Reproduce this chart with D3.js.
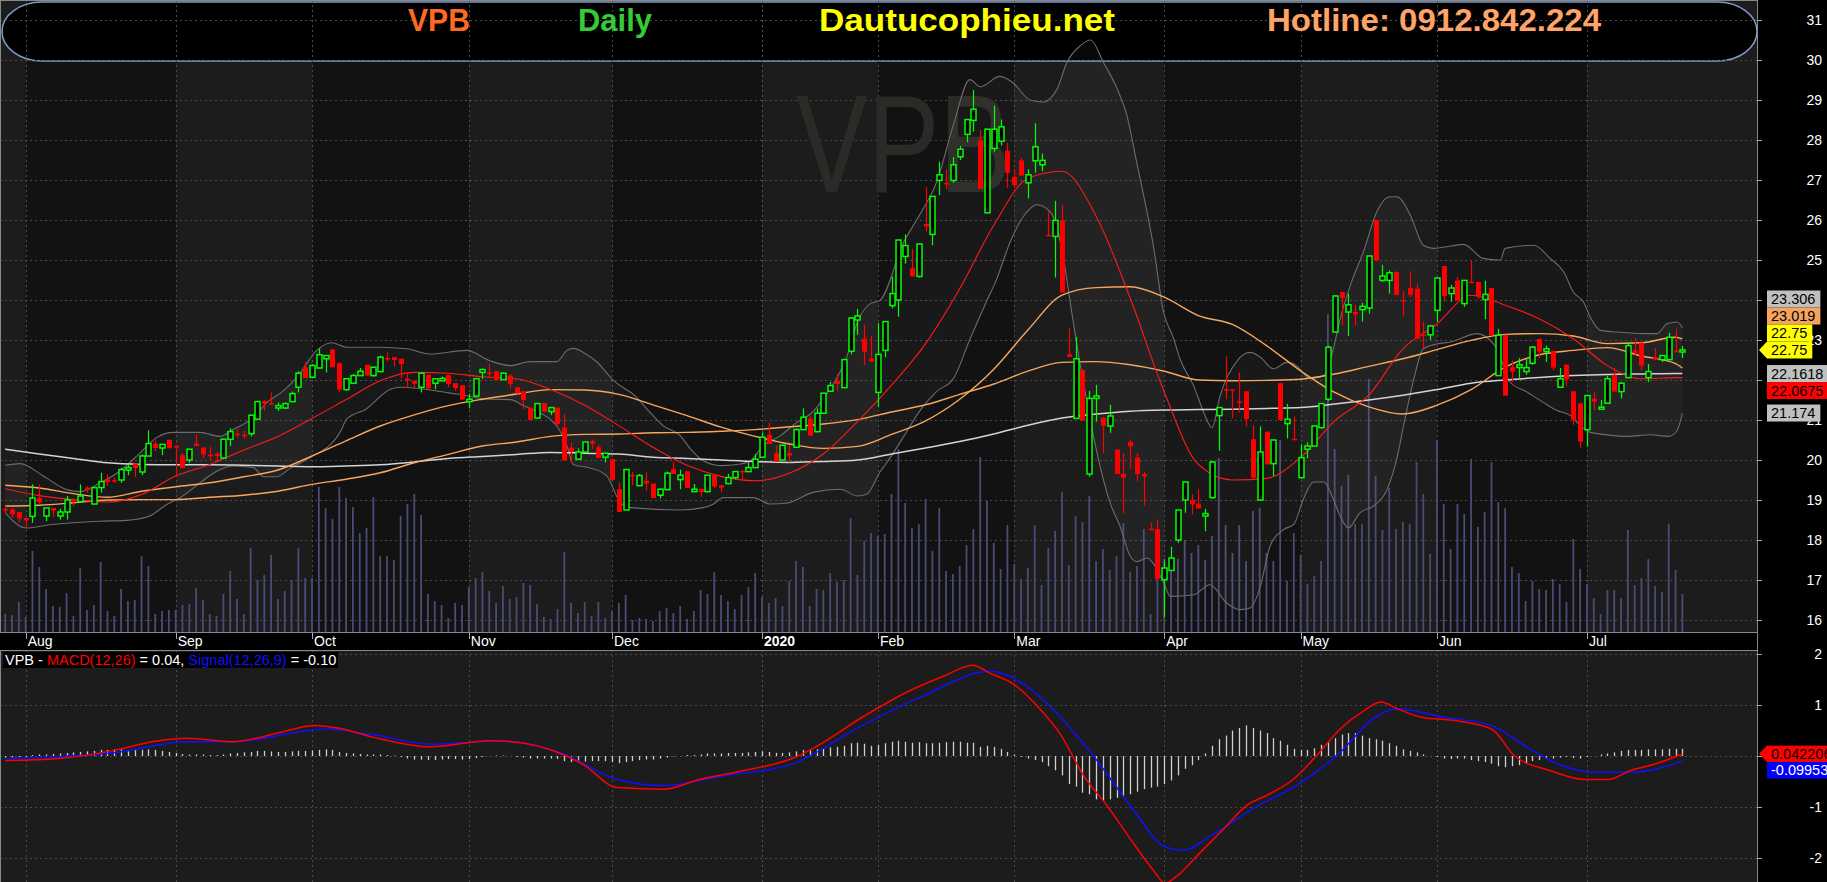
<!DOCTYPE html>
<html><head><meta charset="utf-8">
<script src="https://cdn.jsdelivr.net/npm/d3@7"></script>
<style>html,body{margin:0;padding:0;background:#000;overflow:hidden}svg{display:block}</style>
</head><body>
<svg id="c" width="1827" height="882"></svg>
<script>
// ---------------- DATA ----------------
const monthLabels = ["Aug","Sep","Oct","Nov","Dec","2020","Feb","Mar","Apr","May","Jun","Jul"];
const monthStart  = [3,25,45,68,89,111,128,148,170,190,210,232];

const open = [18.78,18.76,18.70,18.55,18.59,19.05,18.60,18.80,18.60,18.70,
19.00,18.96,19.31,18.90,19.31,19.52,19.50,19.50,19.75,19.91,
19.70,20.10,20.41,20.30,20.50,20.35,20.12,20.00,20.41,20.31,
20.13,20.16,20.05,20.52,20.66,20.63,20.66,21.02,21.47,21.42,
21.30,21.30,21.46,21.82,22.32,22.07,22.30,22.53,22.76,22.42,
21.76,21.92,22.11,22.38,22.11,22.21,22.55,22.57,22.53,22.03,
21.98,21.82,22.13,21.92,21.98,22.13,21.92,21.87,21.46,21.60,
22.19,22.19,22.22,22.01,22.11,21.82,21.72,21.31,21.05,21.42,
21.21,21.31,20.81,20.31,20.02,20.20,20.47,20.32,20.07,20.02,
19.27,18.75,19.63,19.36,19.48,19.41,19.12,19.26,19.77,19.51,
19.72,19.21,19.27,19.21,19.62,19.37,19.41,19.56,19.73,19.71,
19.81,20.07,20.63,20.17,20.00,20.17,20.32,20.76,21.03,20.71,
21.17,21.72,21.98,21.81,22.72,23.50,23.03,22.53,21.69,22.74,
23.86,24.00,25.09,24.79,24.59,25.90,25.64,26.99,26.93,26.99,
27.58,28.14,28.49,27.99,26.18,27.79,27.97,27.73,27.08,27.49,
26.93,27.48,27.38,25.63,25.59,25.99,22.64,21.04,22.25,19.65,
21.54,21.06,20.85,20.26,19.65,20.45,20.06,19.65,18.28,18.27,
17.01,17.24,18.00,19.00,19.00,18.91,18.60,19.06,21.11,21.77,
21.77,21.47,21.72,20.52,19.00,20.71,19.91,21.92,20.91,20.53,
19.56,20.27,20.35,20.81,21.52,23.20,24.20,23.70,23.70,23.76,
23.80,26.00,24.49,24.49,24.70,24.00,24.30,24.28,23.14,23.13,
23.74,24.85,24.16,24.49,23.91,24.46,24.45,24.01,24.30,22.11,
23.13,22.32,22.31,22.21,22.42,23.03,22.71,22.73,21.82,22.38,
21.72,21.42,20.76,21.53,21.27,21.42,22.13,21.71,22.06,22.74,
22.93,22.06,22.57,22.51,22.51,22.73,22.70];
const high = [18.85,18.80,18.70,18.56,19.39,19.39,18.80,18.80,18.78,19.10,
19.05,19.39,19.35,19.31,19.68,19.64,19.56,19.81,19.89,19.91,
20.14,20.74,20.48,20.39,20.52,20.37,20.18,20.27,20.64,20.33,
20.33,20.20,20.52,20.79,20.77,20.73,21.12,21.48,21.50,21.69,
21.44,21.44,21.71,22.22,22.44,22.40,22.79,22.61,22.78,22.44,
22.03,22.15,22.30,22.38,22.32,22.61,22.69,22.57,22.53,22.19,
21.98,22.17,22.13,22.03,22.09,22.13,21.92,21.87,21.65,22.03,
22.29,22.40,22.22,22.19,22.15,21.82,21.72,21.31,21.41,21.42,
21.31,21.31,21.15,20.44,20.29,20.45,20.51,20.38,20.17,20.02,
19.44,19.76,19.71,19.65,19.69,19.41,19.29,19.71,19.96,19.76,
19.72,19.40,19.27,19.62,19.62,19.37,19.65,19.71,19.73,19.94,
20.15,20.69,20.94,20.36,20.37,20.37,20.79,21.29,21.11,21.29,
21.67,21.95,22.15,22.53,23.57,23.78,23.38,23.10,23.42,23.46,
24.58,25.50,25.64,25.28,25.40,26.82,26.59,27.46,27.27,27.57,
27.85,28.51,29.25,28.25,28.27,28.86,28.51,27.93,27.27,27.55,
27.27,28.42,27.66,26.21,26.48,26.38,23.30,23.07,22.27,21.73,
21.88,21.06,21.38,20.26,20.17,20.51,20.17,19.70,18.44,18.51,
17.52,17.83,18.75,19.45,19.14,19.27,18.78,19.98,21.31,22.59,
21.77,22.19,21.72,20.87,20.84,20.71,20.50,21.92,21.40,21.09,
20.39,20.44,20.85,21.41,22.86,24.12,24.20,24.16,23.88,23.93,
25.10,26.00,24.88,24.74,24.72,24.22,24.72,24.41,23.46,23.38,
24.55,24.85,24.38,24.57,24.49,24.99,24.45,24.48,24.30,23.28,
23.13,22.49,22.55,22.53,22.85,23.03,22.86,22.73,22.30,22.40,
21.72,21.42,21.61,21.70,21.50,22.11,22.30,21.94,22.95,23.05,
22.96,22.40,22.80,22.61,23.18,23.28,22.85];
const low = [18.65,18.55,18.44,18.30,18.43,18.89,18.47,18.58,18.51,18.51,
18.85,18.93,19.18,18.90,19.18,19.36,19.43,19.43,19.62,19.57,
19.62,20.10,20.22,20.12,20.28,19.58,19.80,19.93,20.35,20.03,
19.97,19.97,20.03,20.35,20.56,20.54,20.59,21.02,21.23,21.40,
21.23,21.27,21.46,21.69,22.05,22.04,22.29,22.19,22.32,21.69,
21.73,21.92,22.11,22.11,22.09,22.21,22.46,22.34,22.04,21.79,
21.79,21.69,21.79,21.77,21.98,21.82,21.73,21.51,21.29,21.59,
22.03,22.07,21.98,22.01,21.79,21.65,21.27,21.00,21.04,21.19,
21.12,20.81,19.99,19.93,20.00,20.20,20.27,20.05,19.94,19.50,
18.70,18.75,19.37,19.34,19.23,19.05,19.04,19.26,19.65,19.27,
19.30,19.21,19.08,19.19,19.29,19.19,19.40,19.52,19.52,19.71,
19.80,20.07,20.40,19.96,19.98,19.94,20.30,20.76,20.61,20.69,
21.15,21.70,21.73,21.80,22.64,23.13,22.38,22.46,21.32,22.57,
23.79,23.58,24.91,24.59,24.56,25.71,25.37,26.62,26.76,26.93,
27.50,27.95,28.21,26.78,26.18,27.71,27.86,26.80,26.80,27.11,
26.54,27.18,27.22,25.60,24.56,24.19,22.58,21.04,20.99,19.58,
20.96,20.17,20.68,19.65,18.67,19.77,19.47,18.86,18.26,17.02,
16.07,17.24,17.93,18.68,18.64,18.79,18.22,19.03,20.23,21.52,
21.04,21.19,20.84,19.56,19.00,19.89,19.60,21.00,20.54,20.52,
19.53,20.04,20.35,20.79,21.48,23.20,23.36,23.10,23.36,23.46,
23.66,24.97,24.45,24.16,24.12,23.61,24.07,23.03,22.79,23.00,
23.45,23.96,23.96,23.99,23.83,24.43,24.02,23.52,23.12,22.11,
21.61,21.95,22.03,22.13,22.38,22.55,22.45,22.24,21.82,21.85,
20.88,20.29,20.34,21.24,21.27,21.42,21.71,21.54,22.04,22.61,
22.24,21.95,22.49,22.45,22.49,22.72,22.55];
const close = [18.75,18.64,18.54,18.49,19.05,18.94,18.80,18.74,18.70,19.00,
18.98,19.10,19.25,19.31,19.46,19.45,19.48,19.76,19.81,19.80,
20.10,20.41,20.30,20.39,20.30,20.33,19.80,20.27,20.35,20.14,
20.12,20.10,20.52,20.71,20.64,20.62,21.12,21.46,21.41,21.41,
21.36,21.41,21.66,22.17,22.05,22.36,22.63,22.61,22.32,21.76,
22.03,22.11,22.22,22.11,22.32,22.57,22.54,22.50,22.40,22.02,
21.90,22.17,21.79,22.03,22.04,21.90,21.80,21.51,21.52,22.03,
22.26,22.18,22.00,22.17,21.90,21.67,21.50,21.00,21.41,21.21,
21.31,20.90,19.99,20.20,20.20,20.45,20.41,20.05,20.17,19.50,
18.70,19.76,19.62,19.61,19.41,19.05,19.27,19.67,19.65,19.62,
19.30,19.27,19.20,19.62,19.34,19.31,19.56,19.71,19.72,19.81,
20.02,20.57,20.40,19.96,20.37,20.11,20.76,21.07,20.61,21.17,
21.67,21.86,21.90,22.51,23.55,23.60,22.71,22.46,22.64,23.46,
24.16,25.50,25.36,24.59,25.40,25.84,26.59,27.13,26.92,27.38,
27.77,28.51,28.77,26.78,28.27,28.27,28.33,27.18,26.87,27.11,
27.13,27.83,27.49,25.61,25.99,24.19,22.58,22.53,20.99,21.54,
21.60,20.85,21.10,19.65,19.56,20.34,19.65,19.59,18.27,17.02,
17.30,17.55,18.75,19.45,18.89,18.79,18.66,19.95,21.31,21.76,
21.76,21.46,21.02,19.56,20.20,19.89,20.50,21.00,21.02,20.52,
20.06,20.35,20.85,21.41,22.82,24.10,24.05,23.88,23.64,23.84,
25.10,24.99,24.60,24.68,24.13,23.99,24.13,23.03,23.13,23.35,
24.55,24.10,24.30,23.99,24.49,24.44,24.09,24.14,23.12,23.12,
21.61,22.21,22.38,22.31,22.82,22.71,22.78,22.31,22.03,22.01,
21.01,20.46,21.61,21.46,21.32,22.03,21.71,21.92,22.86,22.67,
22.36,22.21,22.51,22.61,23.07,22.72,22.75];
const volume = [1.8,1.7,3.0,1.5,8.1,6.5,4.3,2.6,2.5,3.9,
1.6,6.4,2.2,2.7,7.0,2.1,1.6,4.3,3.1,3.2,
7.6,6.6,1.8,2.1,2.2,2.2,2.7,2.8,4.4,3.2,
1.8,1.6,3.8,6.1,3.3,1.8,8.4,5.2,5.7,7.7,
3.3,4.1,5.2,8.4,5.4,5.4,14.5,12.4,11.3,14.5,
13.4,12.5,9.9,10.4,13.5,7.6,7.6,7.2,11.6,12.8,
13.8,11.7,3.8,3.1,2.7,1.4,2.9,2.7,4.5,5.4,
6.0,4.1,2.9,4.6,3.3,3.5,4.9,4.7,2.8,1.5,
1.3,2.3,8.0,2.9,1.9,3.0,1.6,3.0,1.4,2.1,
2.9,3.7,1.2,1.4,1.3,1.1,2.1,2.4,1.9,2.6,
1.3,2.1,4.2,3.8,6.0,3.7,3.1,2.3,3.7,4.5,
5.9,3.5,2.9,3.4,2.6,5.1,7.1,6.5,2.6,4.3,
4.2,5.9,5.0,5.2,11.4,5.7,9.1,9.9,9.6,9.8,
13.8,18.3,12.9,10.4,10.8,13.3,8.1,12.4,6.1,5.8,
6.6,8.7,10.3,17.5,13.1,8.9,6.3,10.7,6.8,5.3,
6.4,10.7,4.7,8.4,10.1,14.0,6.7,11.6,11.0,13.6,
7.1,8.3,6.2,7.6,10.9,6.0,6.6,10.3,1.8,8.0,
7.0,7.3,7.3,9.2,7.9,8.7,7.2,9.6,17.4,10.7,
7.9,10.7,7.1,12.1,12.4,7.9,7.1,19.2,5.1,9.9,
7.7,4.8,5.6,7.1,31.8,18.3,14.6,15.7,10.8,10.8,
25.3,15.6,10.2,14.4,10.3,11.0,10.8,17.0,13.8,7.8,
19.2,12.8,8.3,12.8,11.8,17.3,10.5,12.0,17.0,13.0,
12.4,6.5,5.9,3.1,5.1,4.3,4.2,5.3,4.8,3.0,
9.3,6.3,4.8,3.4,1.8,4.2,4.2,3.4,10.2,4.7,
5.4,7.3,4.6,4.0,10.8,6.2,3.8];

// moving averages sampled every 5 sessions
const maIdx = [0,5,10,15,20,25,30,35,40,45,50,55,60,65,70,75,80,85,90,95,100,105,110,115,120,125,130,135,140,145,150,155,160,165,170,175,180,185,190,195,200,205,210,215,220,225,230,235,240,245,246];
const maWhite = [20.27,20.15,20.04,19.93,19.89,19.88,19.88,19.87,19.85,19.83,19.85,19.88,19.95,20.04,20.09,20.14,20.19,20.17,20.15,20.07,20.04,20.00,19.96,19.94,19.96,20.00,20.15,20.30,20.46,20.65,20.87,21.05,21.15,21.22,21.25,21.26,21.27,21.29,21.31,21.40,21.50,21.62,21.76,21.92,22.00,22.06,22.11,22.14,22.15,22.16,22.16];
const maOrangeA = [19.37,19.30,19.16,19.07,19.22,19.33,19.43,19.58,19.75,20.10,20.48,20.85,21.13,21.36,21.52,21.65,21.76,21.75,21.64,21.38,21.11,20.82,20.59,20.40,20.29,20.34,20.64,20.98,21.52,22.27,23.25,24.12,24.31,24.33,24.07,23.61,23.39,22.86,22.23,21.69,21.33,21.15,21.37,21.76,22.32,22.63,22.74,22.81,22.60,22.41,22.30];
const maOrangeB = [18.85,18.87,18.93,19.00,19.01,19.01,19.07,19.12,19.22,19.39,19.52,19.68,19.93,20.14,20.35,20.45,20.59,20.64,20.65,20.68,20.69,20.72,20.76,20.83,20.90,21.01,21.20,21.38,21.64,21.90,22.22,22.44,22.46,22.38,22.22,22.00,21.98,21.99,22.02,22.15,22.34,22.53,22.76,22.99,23.14,23.16,23.10,22.91,22.93,23.07,23.03];
const maRed = [19.28,19.11,19.01,18.95,19.14,19.60,19.89,20.25,20.59,21.04,21.51,21.98,22.19,22.17,22.08,22.03,21.76,21.37,20.86,20.32,19.87,19.59,19.48,19.67,20.15,20.96,21.87,22.91,24.28,25.87,27.04,27.22,26.10,24.05,21.70,19.89,19.50,19.54,20.06,20.98,21.62,22.78,23.40,24.12,23.87,23.53,23.03,22.36,22.03,22.06,22.06];

// Bollinger bands
const bbUpIdx = [0,2.2,5.6,9,11,13.9,16.8,19.8,22.2,24.7,28.6,31.5,33.5,36.4,38.4,40.8,42.8,45.7,47.9,50.1,55,58.9,62.3,67.7,71.1,74.1,77,80.9,82.4,83.3,84.8,86.8,89.2,92.6,94.1,96.5,99,100.5,102.4,104.9,107.8,109.3,111.2,113.7,116.1,118.1,120.5,123.5,125,126.9,128.3,131.8,134.2,136.6,139.1,141.5,143,145.9,147.9,150.3,152.3,154.3,155.7,157.7,159.2,161.1,163.1,164.5,166,168.4,169.9,171.4,172.3,174.3,175.8,177,178.2,180.7,182.6,184.1,186,188,189.4,191.4,193.4,194.8,195.8,197.3,199.2,201.2,203.1,204.1,206.1,208,209.5,212,213.9,216.8,219.3,220,224.2,226.6,228.6,230,231.5,232.5,234,236.4,240.3,242.3,243.8,245.2,246];
const bbUpper = [19.87,19.91,19.60,19.26,19.21,19.43,19.72,20.18,20.56,20.69,20.69,20.59,20.77,21.06,21.44,21.73,22.07,22.74,22.93,22.82,22.82,22.78,22.65,22.74,22.48,22.36,22.46,22.46,22.74,22.79,22.69,22.45,21.99,21.57,21.28,20.86,20.61,20.28,19.98,19.86,19.90,19.98,20.36,20.61,20.94,21.15,21.65,22.61,23.45,23.91,23.99,25.45,26.15,26.94,28.39,29.51,29.33,29.59,29.42,29.00,28.95,29.28,29.93,30.36,30.50,29.93,29.28,28.63,27.41,25.36,23.70,23.03,22.53,21.86,21.19,20.81,21.61,22.48,22.69,22.57,22.28,22.44,22.36,22.03,22.11,22.78,23.53,24.37,25.20,26.21,26.58,26.58,26.12,25.37,25.29,25.35,25.39,25.04,25.00,25.29,25.37,25.04,24.70,24.20,23.95,23.57,23.24,23.20,23.16,23.16,23.41,23.45,23.31];
const bbLowIdx = [0,3.1,6.6,13.9,17.8,21.2,23.7,25.6,28.6,31,33.5,36.4,37.9,39.8,41.8,44.7,49.1,50.1,52.9,56.5,58,66.2,71.1,74.1,76,79.9,80.9,82.4,83.3,85.8,88.2,90.2,91.7,99,102.4,103.9,105.3,109.7,112.2,114.6,118.5,122.5,125,126.4,128.3,129.3,131.8,134.2,136.6,139.1,141.5,143.9,145.4,147.4,149.4,151.3,153.3,155.2,156.2,157.7,158.6,160.1,162.1,163.5,165,166,167.5,168.4,169.9,170.9,174.3,176.7,179.2,181.1,182.6,184.1,185.5,187.5,189,190.4,191.9,193.4,194.8,195.8,197,198.7,200.7,202.7,204.1,205.1,206.6,208,210,212,215.9,217.8,218.8,220.7,223.2,225.6,227.6,229.6,231,232.5,234.9,237.9,241.3,244,245.2,246];
const bbLower = [18.68,18.30,18.38,18.47,18.49,18.60,18.89,19.05,19.43,19.72,19.85,19.81,19.58,19.58,19.79,20.06,20.69,21.02,21.27,21.77,21.82,21.65,21.52,21.51,21.36,21.02,20.85,20.35,19.89,19.80,19.61,18.94,18.81,18.75,18.81,18.90,19.06,19.06,18.90,18.92,19.19,19.27,19.10,19.15,19.70,19.93,20.59,21.24,21.71,22.04,23.02,23.95,24.51,25.45,26.10,26.38,26.20,25.07,23.95,22.36,21.52,20.21,18.91,18.35,17.60,17.46,17.55,17.41,16.94,16.59,16.63,16.88,16.42,16.26,16.30,16.84,17.84,18.26,18.39,19.02,19.45,19.45,19.02,18.60,18.30,18.68,18.85,19.27,20.02,20.85,22.02,22.78,22.90,22.95,23.16,22.99,22.78,21.95,21.70,21.44,21.24,21.11,20.86,20.69,20.63,20.59,20.63,20.59,20.73,21.17];

// MACD(12,26) and Signal(12,26,9)
const macdIdx = [0,7.8,16.3,21.5,26.6,33.4,40.3,45.4,48.8,53.9,62.5,71,76.1,84.7,89.8,96.6,101.8,108.6,115.4,118.9,125.7,132.5,137.7,141.9,144.5,147.9,151.3,154.8,158.2,161.6,165,168.4,170.1,171.8,175.3,178.7,182.1,185.5,188.9,192.3,195.8,199.2,201.8,204.3,207.7,212.9,218,221.4,226.5,231.7,235.1,238.5,241.9,246];
const macdVal = [-0.09,-0.05,0.12,0.28,0.35,0.28,0.46,0.60,0.55,0.37,0.18,0.30,0.25,-0.16,-0.62,-0.65,-0.46,-0.28,-0.05,0.18,0.76,1.27,1.57,1.78,1.62,1.41,0.99,0.42,-0.39,-0.97,-1.62,-2.24,-2.49,-2.36,-1.89,-1.43,-0.97,-0.74,-0.46,0.00,0.53,0.88,1.06,0.92,0.76,0.69,0.53,0.00,-0.28,-0.46,-0.46,-0.28,-0.16,0.04];
const sigIdx = [0,16.3,26.6,33.4,47.1,53.9,62.5,72.7,81.3,89.8,96.6,105.2,115.4,125.7,134.2,144.5,149.6,154.8,159.9,165,170.1,172.7,177,183.8,188.9,195.8,200.9,204.3,211.1,218,223.1,228.2,233.4,238.5,246];
const sigVal = [-0.05,0.07,0.28,0.28,0.53,0.42,0.23,0.30,0.07,-0.46,-0.58,-0.39,-0.16,0.60,1.15,1.66,1.39,0.76,-0.05,-0.97,-1.78,-1.85,-1.55,-0.97,-0.62,0.07,0.76,0.92,0.76,0.60,0.18,-0.18,-0.32,-0.32,-0.10];
const macdHist = [-0.03,-0.03,-0.02,-0.02,0.02,0.03,0.03,0.04,0.05,0.06,
0.07,0.08,0.09,0.10,0.12,0.12,0.13,0.13,0.12,0.12,
0.12,0.13,0.12,0.10,0.08,0.06,0.04,0.03,0.03,0.03,
0.02,0.02,0.03,0.05,0.06,0.07,0.08,0.10,0.10,0.09,
0.08,0.08,0.09,0.10,0.10,0.11,0.12,0.13,0.12,0.08,
0.06,0.05,0.04,0.03,0.03,0.03,0.02,0.01,-0.02,-0.05,
-0.07,-0.07,-0.08,-0.08,-0.07,-0.06,-0.06,-0.07,-0.06,-0.04,
-0.02,0.00,0.01,0.01,0.00,-0.02,-0.03,-0.05,-0.05,-0.05,
-0.05,-0.06,-0.10,-0.12,-0.12,-0.11,-0.10,-0.10,-0.10,-0.12,
-0.14,-0.12,-0.10,-0.08,-0.07,-0.07,-0.05,-0.03,-0.01,0.00,
0.02,0.02,0.03,0.05,0.05,0.05,0.06,0.06,0.06,0.07,
0.08,0.09,0.08,0.06,0.06,0.07,0.09,0.12,0.12,0.13,
0.15,0.17,0.18,0.20,0.25,0.26,0.24,0.20,0.22,0.25,
0.28,0.30,0.28,0.26,0.27,0.25,0.25,0.26,0.27,0.28,
0.28,0.26,0.26,0.18,0.20,0.18,0.14,0.08,0.03,-0.02,
-0.05,-0.08,-0.12,-0.20,-0.28,-0.38,-0.55,-0.60,-0.72,-0.75,
-0.85,-0.88,-0.85,-0.82,-0.80,-0.75,-0.70,-0.65,-0.62,-0.60,
-0.55,-0.48,-0.38,-0.25,-0.18,-0.08,0.05,0.20,0.33,0.40,
0.50,0.55,0.60,0.55,0.50,0.45,0.35,0.30,0.22,0.14,
0.12,0.12,0.15,0.22,0.28,0.35,0.42,0.45,0.45,0.40,
0.35,0.33,0.30,0.25,0.20,0.13,0.10,0.07,0.03,0.00,
-0.02,-0.05,-0.06,-0.05,-0.05,-0.08,-0.10,-0.12,-0.15,-0.20,
-0.22,-0.20,-0.18,-0.15,-0.10,-0.08,-0.06,-0.05,-0.03,-0.02,
-0.04,-0.05,-0.02,0.00,0.03,0.05,0.07,0.10,0.12,0.12,
0.12,0.13,0.13,0.13,0.14,0.14,0.14];

// axis tick labels (ticks at 22, 24 and 0 are hidden under the value tags in the original)
const priceTicks = [16,17,18,19,20,21,22,23,24,25,26,27,28,29,30,31];
const priceTickLabels = [16,17,18,19,20,21,23,25,26,27,28,29,30,31];
const macdTicks = [-2,-1,0,1,2];
const macdTickLabels = [-2,-1,1,2];
const priceTags = [
  {text:"23.306", v:23.306, bg:"#c0c0c0", fg:"#000"},
  {text:"23.019", v:23.019, bg:"#f4a460", fg:"#000"},
  {text:"22.75",  v:22.75,  bg:"#ffff00", fg:"#000"},
  {text:"22.75",  v:22.75,  bg:"#ffff00", fg:"#000", anchor:true},
  {text:"22.1618",v:22.1618,bg:"#c0c0c0", fg:"#000"},
  {text:"22.0675",v:22.0675,bg:"#ff0000", fg:"#000"},
  {text:"21.174", v:21.174, bg:"#c0c0c0", fg:"#000"}
];
const macdTags = [
  {text:"0.042206", v:0.042206, bg:"#ff0000", fg:"#000", anchor:true},
  {text:"-0.099535", v:-0.099535, bg:"#0000ff", fg:"#fff"}
];
const headerTexts = [
  {text:"VPB", color:"#ff6a22", x:408, w:62},
  {text:"Daily", color:"#33cc33", x:578, w:74},
  {text:"Dautucophieu.net", color:"#ffff00", x:819, w:296},
  {text:"Hotline: 0912.842.224", color:"#ffa466", x:1267, w:334}
];

// ---------------- DRAW ----------------
const svg = d3.select("#c");
const PR = 1757;              // plot right edge
const FONT = "'Liberation Sans', Arial, sans-serif";
const n = close.length;
const x = d3.scaleLinear().domain([0, 246]).range([5.2, 1682.4]);
const y = d3.scaleLinear().domain([16, 31]).range([620, 20]);
const yv = d3.scaleLinear().domain([0, 40]).range([632, 232]);
const ym = d3.scaleLinear().domain([-2, 2]).range([858, 654]);

svg.append("rect").attr("width",1827).attr("height",882).attr("fill","#000");
svg.append("rect").attr("x",0).attr("y",0).attr("width",PR).attr("height",632).attr("fill","#1c1c1c");
svg.append("rect").attr("x",0).attr("y",651).attr("width",PR).attr("height",231).attr("fill","#1c1c1c");
const darkMonths = [0,2,4,6,8,10];
svg.append("g").selectAll("rect").data(darkMonths).join("rect")
  .attr("x", k => x(monthStart[k])).attr("y",0)
  .attr("width", k => x(monthStart[k+1]) - x(monthStart[k])).attr("height",632)
  .attr("fill","#121212");

// header box
svg.append("rect").attr("x",2).attr("y",2).attr("width",PR-2).attr("height",59)
  .attr("rx",40).attr("ry",29.5).attr("fill","#000").attr("stroke","#7e9cc8").attr("stroke-width",1.5);

// grid
const grid = svg.append("g").attr("stroke","#4a4a4a").attr("stroke-width",1).attr("stroke-dasharray","2,3");
grid.selectAll(".hp").data(priceTicks).join("line")
  .attr("x1",0).attr("x2",PR).attr("y1",d=>Math.round(y(d))+0.5).attr("y2",d=>Math.round(y(d))+0.5);
grid.selectAll(".hm").data(macdTicks).join("line")
  .attr("x1",0).attr("x2",PR).attr("y1",d=>Math.round(ym(d))+0.5).attr("y2",d=>Math.round(ym(d))+0.5);
grid.selectAll(".v").data(monthStart).join("line")
  .attr("x1",d=>Math.round(x(d))+0.5).attr("x2",d=>Math.round(x(d))+0.5).attr("y1",0).attr("y2",882)
  .attr("stroke-dasharray",(d,i)=> monthLabels[i]==="2020" ? null : "2,3")
  .attr("stroke",(d,i)=> monthLabels[i]==="2020" ? "#555" : "#4a4a4a");

// watermark
svg.append("text").text("VPB").attr("x",796).attr("y",192)
  .attr("font-family",FONT).attr("font-size",140).attr("textLength",215).attr("lengthAdjust","spacingAndGlyphs")
  .attr("fill","#2b2a26");

// volume
svg.append("g").selectAll("line").data(volume).join("line")
  .attr("x1",(d,i)=>x(i)).attr("x2",(d,i)=>x(i)).attr("y1",yv(0)).attr("y2",d=>yv(d))
  .attr("stroke","#4b4b78").attr("stroke-width",1.8);

// Bollinger fill
const upPts = bbUpIdx.map((d,i)=>[x(d), y(bbUpper[i])]);
const loPts = bbLowIdx.map((d,i)=>[x(d), y(bbLower[i])]);
svg.append("path").attr("d", "M" + upPts.concat(loPts.slice().reverse()).map(p=>p.join(",")).join("L") + "Z")
  .attr("fill","rgba(255,255,255,0.03)");

const lineGen = d3.line().curve(d3.curveMonotoneX);
function drawLine(idx, vals, color, w, sc){
  svg.append("path").attr("d", lineGen(idx.map((d,i)=>[x(d), sc(vals[i])])))
    .attr("fill","none").attr("stroke",color).attr("stroke-width",w);
}
drawLine(bbUpIdx, bbUpper, "#6c6c6c", 1.1, y);
drawLine(bbLowIdx, bbLower, "#6c6c6c", 1.1, y);
drawLine(maIdx, maWhite, "#d4d4d4", 1.5, y);
drawLine(maIdx, maOrangeB, "#f7a65c", 1.4, y);
drawLine(maIdx, maOrangeA, "#f7a65c", 1.4, y);
drawLine(maIdx, maRed, "#ff1a1a", 1.1, y);

// candles
const cg = svg.append("g");
const idx = d3.range(n);
cg.selectAll(".w").data(idx).join("line")
  .attr("x1",i=>Math.round(x(i))+0.5).attr("x2",i=>Math.round(x(i))+0.5)
  .attr("y1",i=>y(high[i])).attr("y2",i=>y(low[i]))
  .attr("stroke",i=> close[i]>=open[i] ? "#00ff00" : "#ff0000").attr("stroke-width",1.2);
cg.selectAll(".b").data(idx).join("rect")
  .attr("x",i=>Math.round(x(i))-2.5+0.5).attr("width",5)
  .attr("y",i=>Math.min(y(open[i]),y(close[i])))
  .attr("height",i=>Math.max(1.5, Math.abs(y(open[i])-y(close[i]))))
  .attr("fill",i=> close[i]>=open[i] ? "#000" : "#ff0000")
  .attr("stroke",i=> close[i]>=open[i] ? "#00ff00" : "none").attr("stroke-width",1.5);

// header texts
svg.append("g").selectAll("text").data(headerTexts).join("text")
  .attr("x",d=>d.x).attr("y",31).text(d=>d.text)
  .attr("font-family",FONT).attr("font-weight","bold").attr("font-size",32)
  .attr("textLength",d=>d.w).attr("lengthAdjust","spacingAndGlyphs")
  .attr("fill",d=>d.color);

// frame
svg.append("line").attr("x1",0.5).attr("x2",0.5).attr("y1",0).attr("y2",882).attr("stroke","#888");
svg.append("line").attr("x1",0).attr("x2",PR).attr("y1",0.5).attr("y2",0.5).attr("stroke","#888");

// x-axis strip
svg.append("rect").attr("x",0).attr("y",632).attr("width",PR).attr("height",19).attr("fill","#000");
svg.append("line").attr("x1",0).attr("x2",PR).attr("y1",632.5).attr("y2",632.5).attr("stroke","#888");
svg.append("line").attr("x1",0).attr("x2",PR).attr("y1",650.5).attr("y2",650.5).attr("stroke","#888");
const xa = svg.append("g");
xa.selectAll("line").data(monthStart).join("line")
  .attr("x1",d=>Math.round(x(d))+0.5).attr("x2",d=>Math.round(x(d))+0.5).attr("y1",633).attr("y2",639).attr("stroke","#aaa");
xa.selectAll("text").data(monthStart).join("text")
  .attr("x",d=>x(d)+2).attr("y",646).text((d,i)=>monthLabels[i])
  .attr("font-family",FONT).attr("font-size",14).attr("fill","#fff")
  .attr("font-weight",(d,i)=>monthLabels[i]==="2020"?"bold":"normal");

// right axis
svg.append("rect").attr("x",PR).attr("y",0).attr("width",1827-PR).attr("height",882).attr("fill","#000");
svg.append("line").attr("x1",PR+0.5).attr("x2",PR+0.5).attr("y1",0).attr("y2",882).attr("stroke","#888");
const ra = svg.append("g");
ra.selectAll(".tp").data(priceTicks).join("line")
  .attr("x1",PR).attr("x2",PR+5).attr("y1",d=>Math.round(y(d))+0.5).attr("y2",d=>Math.round(y(d))+0.5).attr("stroke","#aaa");
ra.selectAll(".lp").data(priceTickLabels).join("text")
  .attr("x",1822).attr("y",d=>y(d)+5).attr("text-anchor","end").text(d=>d)
  .attr("font-family",FONT).attr("font-size",14).attr("fill","#fff");
ra.selectAll(".tm").data(macdTicks).join("line")
  .attr("x1",PR).attr("x2",PR+5).attr("y1",d=>Math.round(ym(d))+0.5).attr("y2",d=>Math.round(ym(d))+0.5).attr("stroke","#aaa");
ra.selectAll(".lm").data(macdTickLabels).join("text")
  .attr("x",1822).attr("y",d=>ym(d)+5).attr("text-anchor","end").text(d=>d)
  .attr("font-family",FONT).attr("font-size",14).attr("fill","#fff");

// value tags
function layoutTags(tags, sc, h){
  const a = tags.findIndex(t=>t.anchor);
  tags.forEach(t=>t.py = sc(t.v));
  for(let i=a-1;i>=0;i--) tags[i].py = Math.min(tags[i].py, tags[i+1].py - h);
  for(let i=a+1;i<tags.length;i++) tags[i].py = Math.max(tags[i].py, tags[i-1].py + h);
}
function drawTags(tags, sc, h, fs){
  layoutTags(tags, sc, h);
  const g = svg.append("g");
  tags.forEach(t=>{
    const r = g.append("rect").attr("x",1767).attr("y",t.py - h/2).attr("height",h).attr("fill",t.bg);
    if(t.anchor){
      g.append("path").attr("d",`M1759,${t.py} L1767,${t.py-h/2} L1767,${t.py+h/2} Z`).attr("fill",t.bg);
    }
    const tx = g.append("text").attr("x",1771).attr("y",t.py+5).text(t.text)
      .attr("font-family",FONT).attr("font-size",fs).attr("fill",t.fg);
    const tw = tx.node().getComputedTextLength();
    r.attr("width", tw + 9);
  });
}
drawTags(priceTags, y, 17, 14.5);
drawTags(macdTags, ym, 16.5, 14.5);

// MACD histogram and lines
svg.append("g").selectAll("line").data(macdHist).join("line")
  .attr("x1",(d,i)=>Math.round(x(i))+0.5).attr("x2",(d,i)=>Math.round(x(i))+0.5)
  .attr("y1",ym(0)).attr("y2",d=>ym(d)).attr("stroke","#d0d0d0").attr("stroke-width",1.3);
drawLine(sigIdx, sigVal, "#1010ff", 1.5, ym);
drawLine(macdIdx, macdVal, "#ff0000", 1.5, ym);

// MACD legend
const lg = svg.append("g");
lg.append("rect").attr("x",3).attr("y",652).attr("width",335).attr("height",16).attr("fill","#000");
const lt = lg.append("text").attr("x",5).attr("y",665).attr("font-family",FONT).attr("font-size",14.5);
lt.append("tspan").text("VPB - ").attr("fill","#fff");
lt.append("tspan").text("MACD(12,26)").attr("fill","#ff0000");
lt.append("tspan").text(" = 0.04, ").attr("fill","#fff");
lt.append("tspan").text("Signal(12,26,9)").attr("fill","#1010ff");
lt.append("tspan").text(" = -0.10").attr("fill","#fff");
</script>
</body></html>
